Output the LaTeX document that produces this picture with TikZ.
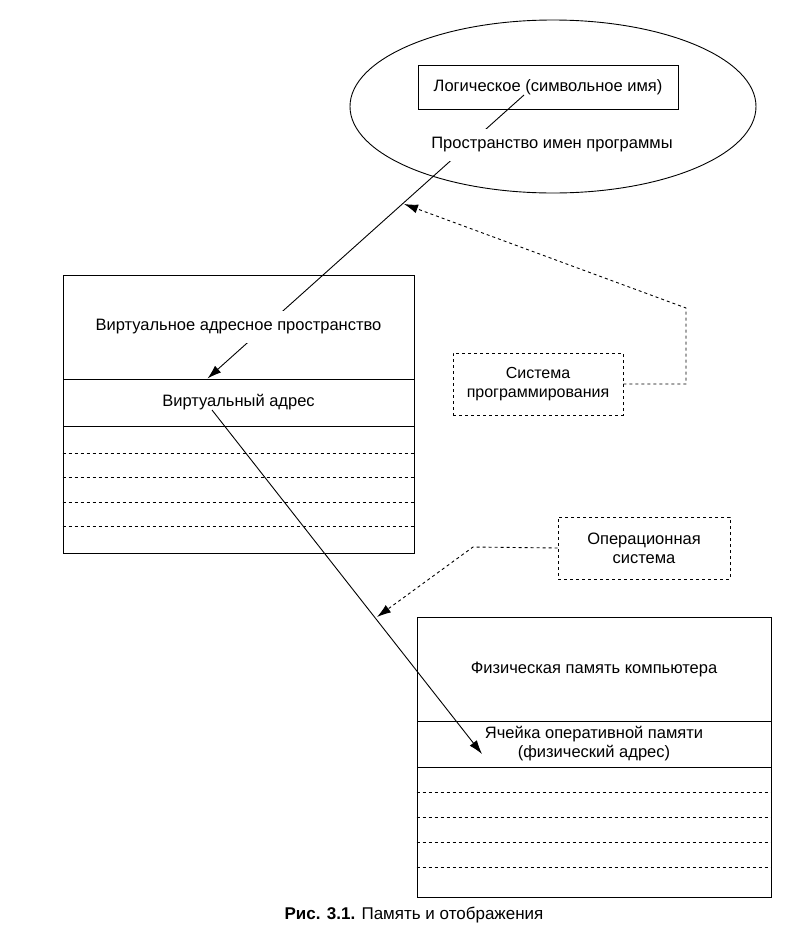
\documentclass[tikz,border=0pt]{standalone}
\usepackage{fontspec}
\setmainfont{Liberation Sans}
\usetikzlibrary{shapes.geometric,arrows.meta}

\tikzset{
  frame/.style={draw, line width=1pt, inner sep=0pt},
  dbox/.style={draw, dashed, line width=0.9pt, align=center, minimum width=170pt, minimum height=62pt},
  label/.style={fill=white, inner xsep=2pt, inner ysep=9pt},
  link/.style={line width=0.9pt},
}

\begin{document}
\begin{tikzpicture}[x=1pt,y=-1pt,font=\fontsize{16.5}{19}\selectfont,>={Latex[length=14pt,width=9pt]}]
\useasboundingbox (0,0) rectangle (797,935);
% program name space
\node[frame, ellipse, line width=0.9pt, minimum width=406pt, minimum height=173pt] (names) at (553,106.5) {};
\node[frame, minimum width=260pt, minimum height=44pt] (logname) at (548,87) {Логическое (символьное имя)};
% virtual address space
\node[frame, minimum width=351pt, minimum height=104pt] (vspace) at (238.5,327) {};
\node[frame, minimum width=351pt, minimum height=47pt] (vaddr) at (238.5,402.5) {Виртуальный адрес};
\node[frame, minimum width=351pt, minimum height=127pt] (vrest) at (238.5,489.5) {};
\foreach \y in {453,477,502,526}
  \draw[dashed, line width=0.9pt] (vrest.west |- 0,\y) -- (vrest.east |- 0,\y);
% physical memory
\node[frame, minimum width=354pt, minimum height=104pt] (pspace) at (594,669) {};
\node[frame, align=center, minimum width=354pt, minimum height=46pt] (pcell) at (594,744) {Ячейка оперативной памяти\\(физический адрес)};
\node[frame, minimum width=354pt, minimum height=130pt] (prest) at (594,832) {};
\foreach \y in {792,817,842,867}
  \draw[dashed, line width=0.9pt] (prest.west |- 0,\y) -- (prest.east |- 0,\y);
% mappings
\coordinate (lstart) at (524,95);
\coordinate (vstart) at (212,410);
\coordinate (pend) at (482,754);
\draw[link, ->] (lstart) -- ([xshift=-31pt]vaddr.north);
\draw[link, ->] (vstart) -- (pend);
\node[label] (nstitle) at (552,145) {Пространство имен программы};
\node[label] (vtitle) at (vspace) {Виртуальное адресное пространство};
\node[label, inner ysep=2pt] (ptitle) at (pspace) {Физическая память компьютера};
% systems
\node[dbox, font=\fontsize{16}{18.5}\selectfont] (progsys) at (538,384) {Система\\программирования};
\node[dbox, minimum width=172pt] (ossys) at (644,548) {Операционная\\система};
\coordinate (pbend) at (686,308);
\coordinate (ptip) at (404,204);
\coordinate (obend) at (473,547);
\coordinate (otip) at (377,617);
\draw[link, dashed, ->] (progsys.east) -| (pbend) -- (ptip);
\draw[link, dashed, ->] (ossys.west) -- (obend) -- (otip);
% caption
\node[font=\fontsize{17}{19}\selectfont] (caption) at (414,915) {\textbf{Рис. 3.1.} Память и отображения};
\end{tikzpicture}
\end{document}
